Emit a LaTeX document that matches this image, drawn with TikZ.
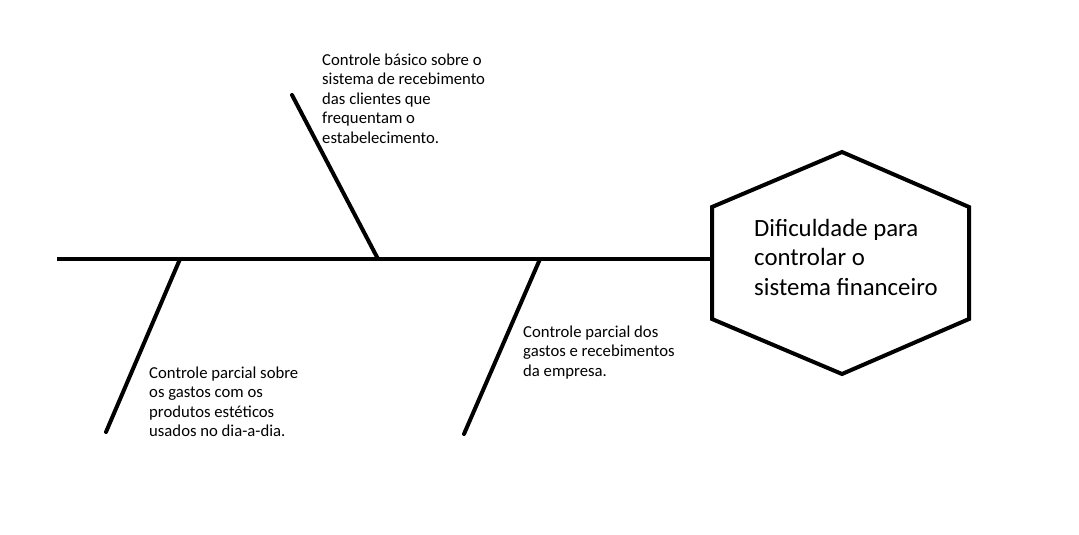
\documentclass[tikz,border=0pt]{standalone}
\usepackage{fontspec}
\setmainfont{Carlito}
\usetikzlibrary{positioning}

\begin{document}
\begin{tikzpicture}[
    x=1pt, y=-1pt,
    bone/.style={line width=4pt, line cap=round},
    cause/.style={anchor=north west, inner sep=0pt, align=left, font=\fontsize{16.7}{19.5}\selectfont},
    effect/.style={anchor=north west, inner sep=0pt, align=left, font=\fontsize{24.8}{29.5}\selectfont}
]
    \useasboundingbox (0,0) rectangle (1079,535);

    % Head
    \coordinate (hexN) at (842,152);
    \coordinate (hexNE) at (969,207);
    \coordinate (hexSE) at (969,319);
    \coordinate (hexS) at (842,374);
    \coordinate (hexSW) at (712,319);
    \coordinate (hexNW) at (712,207);
    \draw[line width=4pt, line join=miter] (hexN) -- (hexNE) -- (hexSE) -- (hexS) -- (hexSW) -- (hexNW) -- cycle;
    \node[effect] (problem) at (754,219) {Dificuldade para\\controlar o\\sistema financeiro};

    % Spine
    \coordinate (tail) at (57,259);
    \coordinate (head) at (712,259);
    \draw[bone, line cap=butt] (tail) -- (head);

    % Bones
    \coordinate (upperTip) at (292,95);
    \coordinate (upperRoot) at (378,259);
    \coordinate (leftTip) at (106,432);
    \coordinate (leftRoot) at (180,259);
    \coordinate (midTip) at (464,434);
    \coordinate (midRoot) at (540,259);
    \draw[bone] (upperTip) -- (upperRoot);
    \draw[bone] (leftRoot) -- (leftTip);
    \draw[bone] (midRoot) -- (midTip);

    % Causes
    \node[cause] (receipts) at (322,53.5) {Controle básico sobre o\\sistema de recebimento\\das clientes que\\frequentam o\\estabelecimento.};
    \node[cause] (products) at (149,366.5) {Controle parcial sobre\\os gastos com os\\produtos estéticos\\usados no dia-a-dia.};
    \node[cause] (company) at (523,325.5) {Controle parcial dos\\gastos e recebimentos\\da empresa.};
\end{tikzpicture}
\end{document}
